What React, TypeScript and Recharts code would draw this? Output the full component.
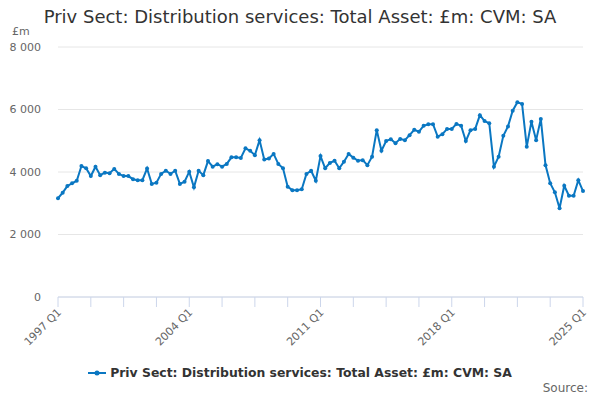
import { CartesianGrid, Line, LineChart, XAxis, YAxis } from "recharts";

// Quarterly series, 1997 Q1 .. 2025 Q1 (£m, CVM, SA)
const values1997to2001 = [
  3160, 3340, 3550, 3640, 3720, 4190, 4120, 3870, 4170, 3900, 3980, 3960,
  4100, 3940, 3870, 3870, 3770, 3740, 3740, 4110,
];
const values2002to2006 = [
  3620, 3660, 3940, 4040, 3940, 4040, 3620, 3690, 4010, 3510, 4040, 3900,
  4350, 4170, 4250, 4170, 4260, 4470, 4470, 4450,
];
const values2007to2011 = [
  4760, 4680, 4540, 5020, 4400, 4430, 4580, 4260, 4120, 3530, 3420, 3420,
  3450, 3940, 4040, 3720, 4510, 4120,
];
const values2011to2015 = [
  4290, 4360, 4120, 4330, 4580, 4460, 4360, 4380, 4220, 4490, 5340, 4680,
  4990, 5050, 4920, 5060, 5020, 5180,
];
const values2016to2020 = [
  5350, 5290, 5480, 5530, 5530, 5130, 5210, 5380, 5380, 5540, 5480, 4990,
  5340, 5380, 5820, 5630, 5560, 4170, 4490, 5160, 5460, 5960,
];
const values2021to2025 = [
  6230, 6180, 4810, 5610, 5020, 5700, 4220, 3640, 3350, 2840, 3560, 3240,
  3240, 3740, 3390,
];

const seriesValues = [
  ...values1997to2001,
  ...values2002to2006,
  ...values2007to2011,
  ...values2011to2015,
  ...values2016to2020,
  ...values2021to2025,
];

const firstYear = 1997;
const quarterLabels = seriesValues.map(
  (_, i) => `${firstYear + Math.floor(i / 4)} Q${(i % 4) + 1}`
);

// tick marks every 7 quarters, labels every 7 years
const tickLabels = quarterLabels.filter((_, i) => i % 7 === 0);
const shownLabels = ["1997 Q1", "2004 Q1", "2011 Q1", "2018 Q1", "2025 Q1"];
const yTicks = [0, 2000, 4000, 6000, 8000];

const seriesName = "Priv Sect: Distribution services: Total Asset: £m: CVM: SA";
const lineColor = "#0a77c2";
const font = "'DejaVu Sans', sans-serif";

const data = quarterLabels.map((label, i) => ({
  label,
  value: seriesValues[i],
}));

const fmt = (v: number) => String(v).replace(/\B(?=(\d{3})+(?!\d))/g, " ");

function XTick({ x, y, payload }: { x: number; y: number; payload: { value: string } }) {
  if (!shownLabels.includes(payload.value)) return null;
  return (
    <text
      x={x + 4}
      y={y + 4}
      textAnchor="end"
      transform={`rotate(-45 ${x + 4} ${y + 4})`}
      fontSize={11}
      fill="#666"
      fontFamily={font}
    >
      {payload.value}
    </text>
  );
}

function YTick({ x, y, payload }: { x: number; y: number; payload: { value: number } }) {
  return (
    <text
      x={x}
      y={y}
      dy="0.355em"
      textAnchor="end"
      fontSize={11}
      fill="#666"
      fontFamily={font}
    >
      {fmt(payload.value)}
    </text>
  );
}

export default function App() {
  return (
    <div
      style={{
        position: "fixed",
        left: 0,
        top: 0,
        width: 600,
        height: 400,
        background: "#fff",
        fontFamily: font,
      }}
    >
      <div
        style={{
          position: "absolute",
          top: 6,
          left: 0,
          width: 600,
          textAlign: "center",
          fontSize: 18,
          color: "#333",
        }}
      >
        {seriesName}
      </div>
      <div
        style={{
          position: "absolute",
          top: 25,
          left: 12,
          fontSize: 11,
          color: "#666",
        }}
      >
        £m
      </div>
      <LineChart
        width={600}
        height={400}
        data={data}
        margin={{ top: 47, right: 17, bottom: 0, left: 0 }}
      >
        <CartesianGrid vertical={false} stroke="#e6e6e6" />
        <XAxis
          dataKey="label"
          ticks={tickLabels}
          interval={0}
          height={103}
          tickSize={10}
          axisLine={{ stroke: "#ccd6eb" }}
          tickLine={{ stroke: "#ccd6eb" }}
          tick={XTick}
        />
        <YAxis
          domain={[0, 8000]}
          ticks={yTicks}
          width={58}
          axisLine={false}
          tickLine={false}
          tickSize={8}
          tickMargin={9}
          tick={YTick}
        />
        <Line
          type="linear"
          dataKey="value"
          stroke={lineColor}
          strokeWidth={2}
          dot={{ r: 2, fill: lineColor, stroke: lineColor, strokeWidth: 0 }}
          isAnimationActive={false}
        />
      </LineChart>
      <div
        style={{
          position: "absolute",
          top: 365,
          left: 0,
          width: 600,
          display: "flex",
          justifyContent: "center",
          alignItems: "center",
          fontSize: 12.4,
          fontWeight: "bold",
          color: "#333",
        }}
      >
        <svg width={18} height={10} style={{ marginRight: 4 }}>
          <line x1={0} y1={5} x2={18} y2={5} stroke={lineColor} strokeWidth={2} />
          <circle cx={9} cy={5} r={2.5} fill={lineColor} />
        </svg>
        {seriesName}
      </div>
      <div
        style={{
          position: "absolute",
          top: 381,
          right: 12,
          fontSize: 12,
          color: "#666",
        }}
      >
        Source:
      </div>
    </div>
  );
}
